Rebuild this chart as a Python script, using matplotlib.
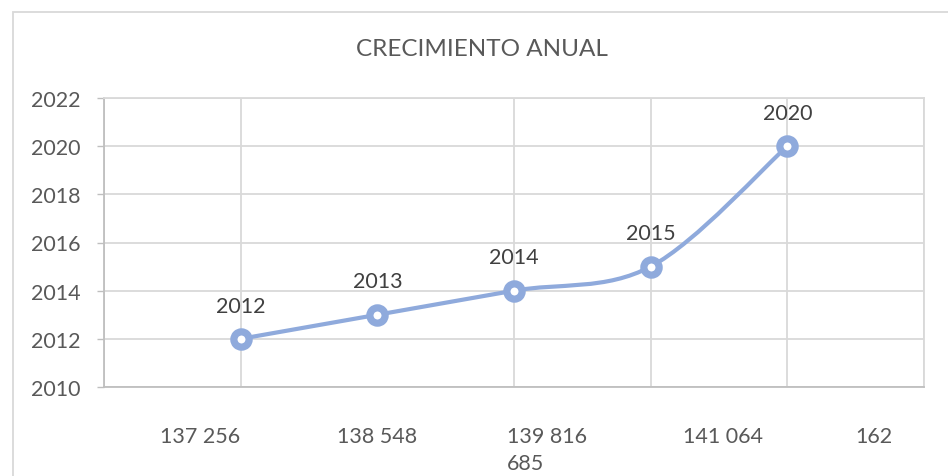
import numpy as np
import matplotlib.pyplot as plt
from matplotlib.path import Path
from matplotlib.patches import PathPatch, Rectangle

# annual growth data
x_pos = [1, 2, 3, 4, 5]
years = [2012, 2013, 2014, 2015, 2020]
value_labels = ["137 256", "138 548", "139 816\n685", "141 064", "162"]
label_pos = [0.70, 2.0, 3.24, 4.53, 5.63]

plt.rcParams['font.family'] = ['Lato', 'DejaVu Sans']

fig = plt.figure(figsize=(9.48, 4.77), dpi=100)
W, H = 948, 477
ax = fig.add_axes([104 / W, (H - 388) / H, (924 - 104) / W, (388 - 99) / H])

# outer chart border
fig.patches.append(Rectangle((13 / W, -0.1), 1.2, (H - 13) / H + 0.1,
                             transform=fig.transFigure, fill=False,
                             edgecolor='#d9d9d9', linewidth=1.3))

# smoothed line (cubic bezier through the points, like excel)
xs = np.array(x_pos, dtype=float)
ys = np.array(years, dtype=float)
px = np.concatenate([[xs[0]], xs, [xs[-1]]])
py = np.concatenate([[ys[0]], ys, [ys[-1]]])
verts = [(xs[0], ys[0])]
codes = [Path.MOVETO]
for i in range(1, len(xs)):
    c1 = (px[i] + (px[i + 1] - px[i - 1]) / 6, py[i] + (py[i + 1] - py[i - 1]) / 6)
    c2 = (px[i + 1] - (px[i + 2] - px[i]) / 6, py[i + 1] - (py[i + 2] - py[i]) / 6)
    verts += [c1, c2, (px[i + 1], py[i + 1])]
    codes += [Path.CURVE4] * 3
col = '#8faadc'
ax.add_patch(PathPatch(Path(verts, codes), fill=False, edgecolor=col,
                       linewidth=3, capstyle='round', zorder=3))
ax.plot(x_pos, years, linestyle='none', marker='o', markersize=11,
        markerfacecolor='white', markeredgecolor=col, markeredgewidth=5.2, zorder=4)

for x, y in zip(x_pos, years):
    ax.annotate(str(y), (x, y), xytext=(0, 24), textcoords='offset points',
                ha='center', va='center', fontsize=15.5, color='#404040')

ax.set_xlim(0, 6)
ax.set_ylim(2010, 2022)
ax.set_yticks(range(2010, 2023, 2))
ax.set_xticks(label_pos, value_labels)
ax.set_xticks(range(0, 7), minor=True)
lab = ax.get_xticklabels()[2]
lab.set_multialignment('left')
lab.set_linespacing(1.45)

ax.grid(axis='y', which='major', color='#d9d9d9', linewidth=1.3)
ax.grid(axis='x', which='minor', color='#d9d9d9', linewidth=1.3)
ax.set_axisbelow(True)

ax.tick_params(axis='y', length=5, width=1, color='#bfbfbf', labelsize=15.5,
               labelcolor='#595959', pad=12)
ax.tick_params(axis='x', which='both', length=0, labelsize=15.5,
               labelcolor='#595959', pad=28)
for s in ['left', 'bottom']:
    ax.spines[s].set_color('#bfbfbf')
    ax.spines[s].set_linewidth(1.3)
for s in ['top', 'right']:
    ax.spines[s].set_color('#d9d9d9')
    ax.spines[s].set_linewidth(1.3)

fig.text(482 / W, (H - 49) / H, "CRECIMIENTO ANUAL", ha='center', va='center',
         fontsize=17.5, color='#595959')

fig.savefig('out.png', dpi=100)
